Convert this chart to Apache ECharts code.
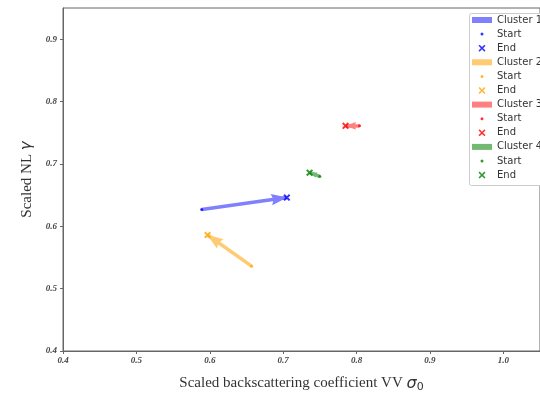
<!DOCTYPE html>
<html>
<head>
<meta charset="utf-8">
<script src="https://cdn.jsdelivr.net/npm/echarts@6/dist/echarts.min.js"></script>
<style>
  html, body { margin: 0; padding: 0; background: #fff; }
  #chart { width: 540px; height: 398px; }
</style>
</head>
<body>
<div id="chart"></div>
<script>
// cluster trajectories (start -> end)
const clusters = ["Cluster 1", "Cluster 2", "Cluster 3", "Cluster 4"];
const colors = ["#0000ff", "#ffa500", "#ff0000", "#008000"];
// half-transparent look of the arrows, flattened on white
const arrowColors = ["#8080ff", "#ffcb72", "#ff8080", "#72b972"];
const startX = [0.589, 0.657, 0.804, 0.750];
const startY = [0.627, 0.536, 0.761, 0.680];
const endX = [0.705, 0.597, 0.785, 0.736];
const endY = [0.646, 0.586, 0.761, 0.686];

const xTicks = [0.4, 0.5, 0.6, 0.7, 0.8, 0.9, 1.0];
const yTicks = [0.4, 0.5, 0.6, 0.7, 0.8, 0.9];

// arrow head in a square 30x30 box: tip at the centre, body trailing behind
// (zero-area corner points pin the bounding box)
const headPath = "path://M0,0L0,0ZM30,0L30,0ZM15,15L20.5,31L15,29L9.5,31Z";
// lines symbolSize is [from, to]; short arrows get smaller heads, like quiver does
const headSizes = [[0, 31], [0, 31], [0, 21], [0, 15]];

const crossPath = "path://M2,0L5,3L8,0L10,2L7,5L10,8L8,10L5,7L2,10L0,8L3,5L0,2Z";
// legend icons: same marks, centred in a 20px wide box (zero-area end points widen the bbox)
const legendDot = "path://M0,3.5L0,3.5ZM20,3.5L20,3.5ZM10,2A1.5,1.5 0 1 1 10,5A1.5,1.5 0 1 1 10,2Z";
const legendCross = "path://M0,3.5L0,3.5ZM20,3.5L20,3.5ZM7.6,0.5L10,2.9L12.4,0.5L13.5,1.6L11.1,4L13.5,6.4L12.4,7.5L10,5.1L7.6,7.5L6.5,6.4L8.9,4L6.5,1.6Z";
const serif = "'Liberation Serif', 'DejaVu Serif', serif";

const chart = echarts.init(document.getElementById("chart"));

const series = [];
const legends = [];
clusters.forEach((name, i) => {
  series.push({
    name: name,
    type: "lines",
    coordinateSystem: "cartesian2d",
    polyline: false,
    symbol: ["none", headPath],
    symbolSize: headSizes[i],
    lineStyle: { color: arrowColors[i], width: 3.5, opacity: 1 },
    itemStyle: { color: arrowColors[i] },
    data: [{ coords: [[startX[i], startY[i]], [endX[i], endY[i]]] }],
    z: 2,
  });
  series.push({
    name: "Start|" + i,
    type: "scatter",
    symbol: "circle",
    symbolSize: 3,
    itemStyle: { color: colors[i] },
    data: [[startX[i], startY[i]]],
    z: 3,
  });
  series.push({
    name: "End|" + i,
    type: "scatter",
    symbol: crossPath,
    symbolSize: 7,
    itemStyle: { color: colors[i] },
    data: [[endX[i], endY[i]]],
    z: 3,
  });

  // legend rows, one per entry
  const rowY = 21 + i * 42.3;
  const common = {
    left: 472,
    padding: 0,
    orient: "vertical",
    selectedMode: false,
    itemWidth: 20,
    itemHeight: 7,
    textStyle: { fontFamily: "'DejaVu Sans', sans-serif", fontSize: 10, color: "#333" },
    formatter: (n) => n.split("|")[0],
  };
  legends.push(Object.assign({}, common, {
    top: rowY - 6,
    itemHeight: 6,
    data: [{ name: name, icon: "rect", itemStyle: { color: arrowColors[i], borderWidth: 0 } }],
  }));
  legends.push(Object.assign({}, common, {
    top: rowY + 14.1 - 6,
    data: [{ name: "Start|" + i, icon: legendDot, itemStyle: { color: colors[i], borderWidth: 0 } }],
  }));
  legends.push(Object.assign({}, common, {
    top: rowY + 28.2 - 6,
    data: [{ name: "End|" + i, icon: legendCross, itemStyle: { color: colors[i], borderWidth: 0 } }],
  }));
});

const option = {
  animation: false,
  backgroundColor: "#fff",
  grid: {
    left: 63, top: 8, bottom: 39, right: -14,
    show: true, borderColor: "#666", borderWidth: 1,
  },
  xAxis: {
    type: "value",
    min: 0.4, max: 1.05, interval: 0.1,
    name: "Scaled backscattering coefficient VV {s|σ}{sub|0}",
    nameLocation: "middle",
    nameGap: 23,
    nameTextStyle: {
      fontFamily: serif, fontSize: 15, color: "#333",
      rich: {
        s: { fontFamily: "'DejaVu Sans', sans-serif", fontStyle: "italic", fontSize: 16, color: "#333" },
        sub: { fontFamily: "'DejaVu Sans', sans-serif", fontSize: 11, color: "#333", padding: [8, 0, 0, 0] },
      },
    },
    axisLine: { show: true, lineStyle: { color: "#666" } },
    axisTick: { show: true, length: 3, lineStyle: { color: "#666" } },
    splitLine: { show: false },
    axisLabel: {
      showMaxLabel: false,
      fontFamily: serif, fontStyle: "italic", fontWeight: "bold", fontSize: 9, color: "#444", margin: 5,
      formatter: (v) => (xTicks.some((t) => Math.abs(t - v) < 1e-6) ? v.toFixed(1) : ""),
    },
  },
  yAxis: {
    type: "value",
    min: 0.4, max: 0.95, interval: 0.1,
    name: "Scaled NL {g|γ}",
    nameLocation: "middle",
    nameGap: 26,
    nameTextStyle: {
      fontFamily: serif, fontSize: 15, color: "#333",
      rich: { g: { fontFamily: "'DejaVu Sans', sans-serif", fontStyle: "italic", fontSize: 15, color: "#333" } },
    },
    axisLine: { show: true, lineStyle: { color: "#666" } },
    axisTick: { show: true, length: 3, lineStyle: { color: "#666" } },
    splitLine: { show: false },
    axisLabel: {
      showMaxLabel: false,
      fontFamily: serif, fontStyle: "italic", fontWeight: "bold", fontSize: 9, color: "#444", margin: 6,
      formatter: (v) => (yTicks.some((t) => Math.abs(t - v) < 1e-6) ? v.toFixed(1) : ""),
    },
  },
  legend: legends,
  graphic: [{
    type: "rect",
    left: 469, top: 13,
    shape: { width: 90, height: 172, r: 2 },
    style: { fill: "#fff", stroke: "#ccc", lineWidth: 1 },
    z: 0,
  }],
  series: series,
};

chart.setOption(option);
</script>
</body>
</html>
